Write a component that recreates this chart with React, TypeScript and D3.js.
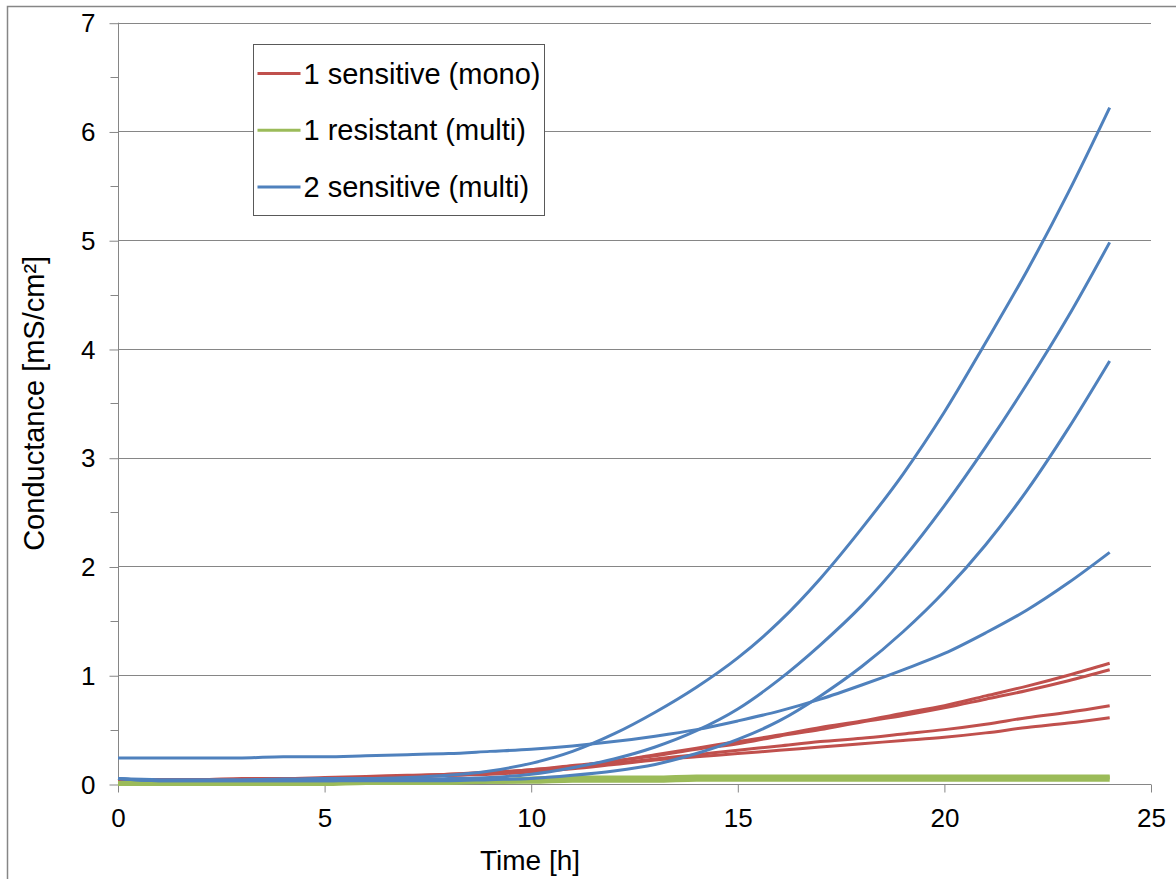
import React, { useEffect, useRef } from "react";
import * as d3 from "d3";

// time axis (hours) shared by every curve
const hours = [0, 1, 2, 3, 4, 5, 6, 7, 8, 9, 10, 11, 12, 13, 14, 15, 16, 17, 18, 19, 20, 21, 22, 23, 24];

// 1 sensitive (mono) - red
const sensitiveMono = [
  [0.04, 0.04, 0.04, 0.05, 0.05, 0.06, 0.07, 0.08, 0.09, 0.11, 0.13, 0.17, 0.21, 0.27, 0.33, 0.39, 0.45, 0.52, 0.58, 0.65, 0.72, 0.81, 0.9, 1.0, 1.11],
  [0.04, 0.04, 0.04, 0.04, 0.05, 0.05, 0.06, 0.07, 0.09, 0.1, 0.13, 0.16, 0.21, 0.26, 0.32, 0.37, 0.44, 0.5, 0.57, 0.63, 0.7, 0.78, 0.86, 0.95, 1.05],
  [0.04, 0.04, 0.04, 0.04, 0.04, 0.05, 0.06, 0.07, 0.08, 0.1, 0.12, 0.15, 0.19, 0.23, 0.27, 0.31, 0.35, 0.39, 0.42, 0.46, 0.5, 0.55, 0.61, 0.66, 0.72],
  [0.03, 0.03, 0.03, 0.04, 0.04, 0.04, 0.05, 0.06, 0.08, 0.09, 0.11, 0.14, 0.18, 0.22, 0.25, 0.28, 0.31, 0.34, 0.37, 0.4, 0.43, 0.47, 0.52, 0.56, 0.61],
];

// 1 resistant (multi) - green
const resistantMulti = [
  [0.01, 0.01, 0.01, 0.01, 0.01, 0.01, 0.02, 0.02, 0.02, 0.03, 0.05, 0.06, 0.06, 0.06, 0.07, 0.07, 0.07, 0.07, 0.07, 0.07, 0.07, 0.07, 0.07, 0.07, 0.07],
  [0.0, 0.0, 0.01, 0.01, 0.01, 0.01, 0.01, 0.01, 0.02, 0.02, 0.03, 0.04, 0.04, 0.05, 0.05, 0.05, 0.05, 0.05, 0.05, 0.05, 0.05, 0.06, 0.06, 0.06, 0.06],
  [0.0, 0.0, 0.0, 0.0, 0.0, 0.0, 0.01, 0.01, 0.01, 0.02, 0.02, 0.03, 0.03, 0.03, 0.04, 0.04, 0.04, 0.04, 0.04, 0.04, 0.04, 0.04, 0.04, 0.04, 0.04],
];

// 2 sensitive (multi) - blue
const sensitiveMulti = [
  [0.05, 0.04, 0.04, 0.04, 0.045, 0.05, 0.05, 0.06, 0.08, 0.12, 0.19, 0.3, 0.46, 0.66, 0.89, 1.16, 1.49, 1.89, 2.35, 2.85, 3.42, 4.06, 4.72, 5.44, 6.22],
  [0.05, 0.03, 0.03, 0.03, 0.03, 0.03, 0.04, 0.04, 0.05, 0.06, 0.09, 0.15, 0.23, 0.34, 0.49, 0.69, 0.96, 1.28, 1.64, 2.07, 2.56, 3.1, 3.68, 4.3, 4.98],
  [0.05, 0.03, 0.03, 0.03, 0.03, 0.03, 0.03, 0.03, 0.03, 0.04, 0.05, 0.08, 0.12, 0.18, 0.28, 0.41, 0.58, 0.81, 1.08, 1.4, 1.77, 2.2, 2.7, 3.27, 3.89],
  [0.24, 0.24, 0.24, 0.24, 0.25, 0.25, 0.26, 0.27, 0.28, 0.3, 0.32, 0.35, 0.39, 0.44, 0.5, 0.58, 0.67, 0.78, 0.91, 1.05, 1.2, 1.39, 1.6, 1.85, 2.13],
];

const seriesNames = ["1 sensitive (mono)", "1 resistant (multi)", "2 sensitive (multi)"];
const seriesColors = ["#C0504D", "#9BBB59", "#4F81BD"];
const seriesGroups = [sensitiveMono, resistantMulti, sensitiveMulti];

const xTicks = [0, 5, 10, 15, 20, 25];
const yTicks = [0, 1, 2, 3, 4, 5, 6, 7];
const yMinorTicks = [0.5, 1.5, 2.5, 3.5, 4.5, 5.5, 6.5];

const App = () => {
  const ref = useRef<SVGSVGElement | null>(null);

  useEffect(() => {
    const width = 1176;
    const height = 879;
    const left = 118;
    const right = 1151;
    const top = 22.7;
    const bottom = 784;
    const font = "'Liberation Sans', Arial, sans-serif";
    const axisGray = "#868686";

    const svg = d3.select(ref.current);
    svg.selectAll("*").remove();
    svg.attr("width", width).attr("height", height);

    svg.append("rect").attr("width", width).attr("height", height).attr("fill", "#fff");

    // outer chart frame (runs off the right and bottom edges)
    svg.append("rect")
      .attr("x", 7.5).attr("y", 6.5)
      .attr("width", 1300).attr("height", 1000)
      .attr("fill", "none")
      .attr("stroke", axisGray)
      .attr("stroke-width", 1.5);

    const x = d3.scaleLinear().domain([0, 25]).range([left, right]);
    const y = d3.scaleLinear().domain([0, 7]).range([bottom, top]);

    // gridlines
    svg.append("g")
      .selectAll("line")
      .data(yTicks.filter((d) => d > 0))
      .enter()
      .append("line")
      .attr("x1", left).attr("x2", right)
      .attr("y1", (d) => Math.round(y(d)) + 0.5)
      .attr("y2", (d) => Math.round(y(d)) + 0.5)
      .attr("stroke", axisGray)
      .attr("stroke-width", 1);

    // y axis
    const yAxis = svg.append("g").attr("transform", `translate(${left + 0.5},0)`);
    yAxis.call(
      d3.axisLeft(y).tickValues(yTicks).tickSize(9).tickPadding(14).tickFormat(d3.format("d"))
    );
    yAxis.selectAll(".tick line").attr("stroke", axisGray).attr("transform", "translate(0,0.5)");
    yAxis.select(".domain").attr("stroke", axisGray).attr("d", `M0,${y(7)}V${y(0)}`);
    yAxis.selectAll("text").attr("font-family", font).attr("font-size", 26).attr("fill", "#000").attr("dy", "0.35em");

    yAxis.selectAll(".minor")
      .data(yMinorTicks)
      .enter()
      .append("line")
      .attr("class", "minor")
      .attr("x1", -8).attr("x2", 0)
      .attr("y1", (d) => Math.round(y(d)) + 0.5)
      .attr("y2", (d) => Math.round(y(d)) + 0.5)
      .attr("stroke", axisGray);

    // x axis
    const xAxis = svg.append("g").attr("transform", `translate(0,${bottom + 0.5})`);
    xAxis.call(d3.axisBottom(x).tickValues(xTicks).tickSize(8).tickPadding(16).tickFormat(d3.format("d")));
    xAxis.select(".domain").attr("stroke", axisGray).attr("d", `M${left},0H${right}`);
    xAxis.selectAll(".tick line").attr("stroke", axisGray);
    xAxis.selectAll("text").attr("font-family", font).attr("font-size", 26).attr("fill", "#000");

    // axis titles
    svg.append("text")
      .attr("x", 530)
      .attr("y", 870)
      .attr("text-anchor", "middle")
      .attr("font-family", font)
      .attr("font-size", 28)
      .text("Time [h]");

    svg.append("text")
      .attr("transform", `translate(44,${(top + bottom) / 2}) rotate(-90)`)
      .attr("text-anchor", "middle")
      .attr("font-family", font)
      .attr("font-size", 29)
      .text("Conductance [mS/cm²]");

    // curves
    const line = d3.line<number>()
      .x((d, i) => x(hours[i]))
      .y((d) => y(d))
      .curve(d3.curveMonotoneX);

    seriesGroups.forEach((group, gi) => {
      svg.append("g")
        .selectAll("path")
        .data(group)
        .enter()
        .append("path")
        .attr("d", (d) => line(d))
        .attr("fill", "none")
        .attr("stroke", seriesColors[gi])
        .attr("stroke-width", gi === 1 ? 4 : 3)
        .attr("stroke-linejoin", "round");
    });

    // legend
    const legend = svg.append("g").attr("transform", "translate(253.5,44.5)");
    legend.append("rect")
      .attr("width", 291).attr("height", 171)
      .attr("fill", "#fff")
      .attr("stroke", "#595959")
      .attr("stroke-width", 1);

    const items = legend.selectAll(".legend-item")
      .data(seriesNames)
      .enter()
      .append("g")
      .attr("class", "legend-item")
      .attr("transform", (d, i) => `translate(0,${29 + i * 56.7})`);

    items.append("line")
      .attr("x1", 4).attr("x2", 47)
      .attr("stroke", (d, i) => seriesColors[i])
      .attr("stroke-width", 3);

    items.append("text")
      .attr("x", 50)
      .attr("y", 10)
      .attr("font-family", font)
      .attr("font-size", 29)
      .attr("fill", "#000")
      .text((d) => d);

    return () => {
      svg.selectAll("*").remove();
    };
  }, []);

  return <svg ref={ref} style={{ position: "absolute", left: 0, top: 0, display: "block" }} />;
};

export default App;
